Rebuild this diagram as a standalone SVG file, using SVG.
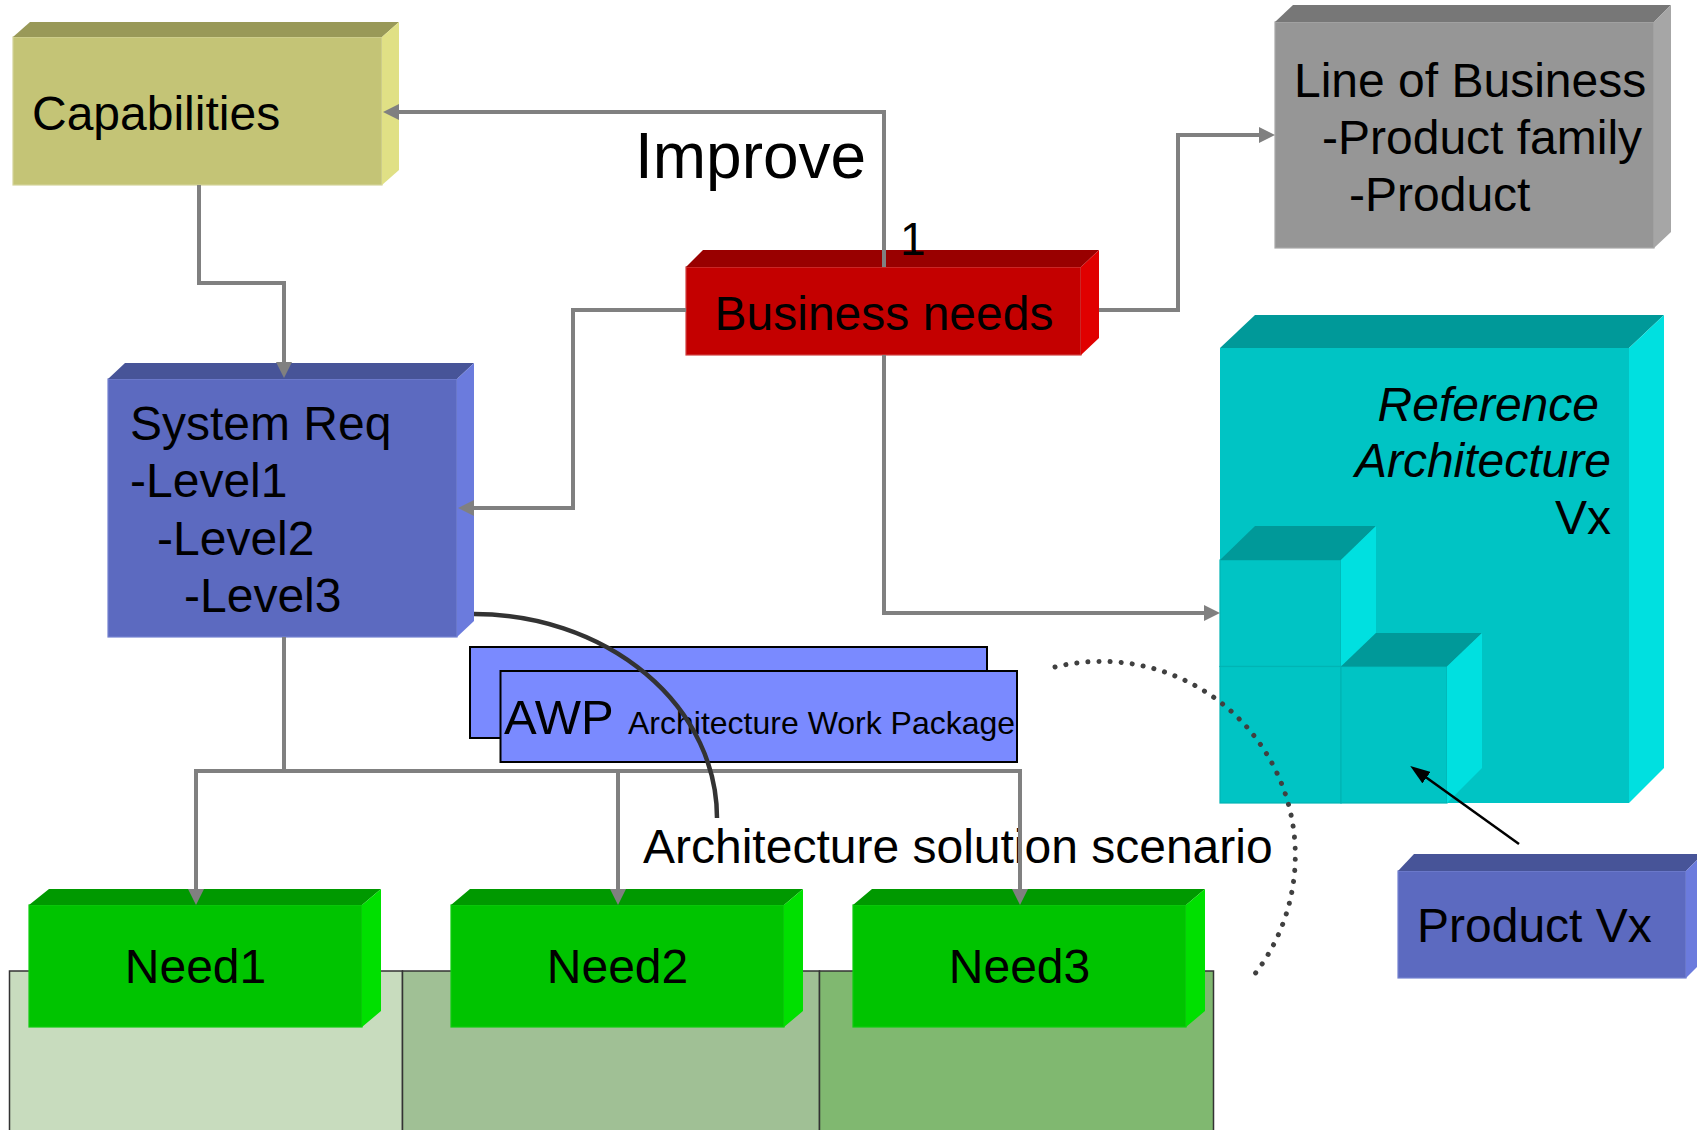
<svg xmlns="http://www.w3.org/2000/svg" width="1697" height="1130" viewBox="0 0 1697 1130">
<defs>
<style>
text{font-family:"Liberation Sans",Arial,sans-serif;fill:#000}
.t48{font-size:48px}
.con{fill:none;stroke:#808080;stroke-width:4}
.panel{stroke:#333;stroke-width:1.5}
.edge{stroke-width:1.2}
.awp{fill:#7A8AFF;stroke:#000;stroke-width:2}
</style>
<marker id="ag" markerUnits="userSpaceOnUse" markerWidth="16" markerHeight="16" refX="8" refY="8" orient="auto">
<path d="M0,0 L16,8 L0,16 z" fill="#808080"/>
</marker>
<marker id="ab" markerUnits="userSpaceOnUse" markerWidth="20" markerHeight="14" refX="8" refY="7" orient="auto">
<path d="M0,0 L20,7 L0,14 z" fill="#000"/>
</marker>
</defs>
<rect width="1697" height="1130" fill="#fff"/>

<g id="panels">
<rect class="panel" x="9.5" y="971" width="393" height="170" fill="#C8DCBE"/>
<rect class="panel" x="402.5" y="971" width="417" height="170" fill="#A0C095"/>
<rect class="panel" x="819.5" y="971" width="394" height="170" fill="#80B870"/>
</g>

<g id="capabilities">
<rect x="13" y="37" width="369" height="148" fill="#C4C476" stroke="#D4D49A" class="edge"/>
<polygon points="13,37 30,22 399,22 382,37" fill="#999958"/>
<polygon points="382,37 399,22 399,170 382,185" fill="#E0E085"/>
<text class="t48" x="32" y="130">Capabilities</text>
</g>

<g id="business-needs">
<rect x="686" y="267" width="395" height="88" fill="#C40000" stroke="#D04040" class="edge"/>
<polygon points="686,267 703,250 1099,250 1081,267" fill="#990000"/>
<polygon points="1081,267 1099,250 1099,338 1081,355" fill="#E00000"/>
<text class="t48" x="884" y="330" text-anchor="middle">Business needs</text>
</g>

<g id="line-of-business">
<rect x="1275" y="22" width="379" height="226" fill="#969696" stroke="#A8A8A8" class="edge"/>
<polygon points="1275,22 1293,5 1671,5 1654,22" fill="#777777"/>
<polygon points="1654,22 1671,5 1671,232 1654,248" fill="#A6A6A6"/>
<text class="t48" x="1294" y="97">Line of Business</text>
<text class="t48" x="1322" y="154">-Product family</text>
<text class="t48" x="1349" y="211">-Product</text>
</g>

<g id="system-req">
<rect x="108" y="379" width="349" height="258" fill="#5C6AC0" stroke="#7482D0" class="edge"/>
<polygon points="108,379 125,363 474,363 457,379" fill="#475498"/>
<polygon points="457,379 474,363 474,621 457,637" fill="#6B7BDD"/>
<text class="t48" x="130" y="440">System Req</text>
<text class="t48" x="130" y="497">-Level1</text>
<text class="t48" x="157" y="555">-Level2</text>
<text class="t48" x="184" y="612">-Level3</text>
</g>

<g id="reference-architecture">
<rect x="1220" y="348" width="409" height="455" fill="#00C4C4"/>
<polygon points="1220,348 1255,315 1664,315 1629,348" fill="#009999"/>
<polygon points="1629,348 1664,315 1664,768 1629,803" fill="#00E0E0"/>
<rect x="1220" y="560" width="121" height="106.5" fill="#00C4C4" stroke="#00B4B4" class="edge"/>
<polygon points="1220,560 1255,526 1376,526 1341,560" fill="#009999"/>
<polygon points="1341,560 1376,526 1376,633 1341,666.5" fill="#00E0E0"/>
<rect x="1220" y="666.5" width="121" height="136.5" fill="#00C4C4" stroke="#00B4B4" class="edge"/>
<rect x="1341" y="666.5" width="106" height="136.5" fill="#00C4C4" stroke="#00B4B4" class="edge"/>
<polygon points="1341,666.5 1376,633 1482,633 1447,666.5" fill="#009999"/>
<polygon points="1447,666.5 1482,633 1482,768 1447,803" fill="#00E0E0"/>
<text class="t48" x="1599" y="421" text-anchor="end" font-style="italic">Reference</text>
<text class="t48" x="1611" y="477" text-anchor="end" font-style="italic">Architecture</text>
<text class="t48" x="1611" y="534" text-anchor="end">Vx</text>
</g>

<g id="awp">
<rect class="awp" x="470" y="647" width="517" height="91"/>
<rect class="awp" x="500.5" y="671" width="516.5" height="91"/>
<text x="504" y="734" font-size="49">AWP</text>
<text x="628" y="734" font-size="32">Architecture Work Package</text>
</g>

<g id="product-vx">
<rect x="1398" y="871" width="288" height="107" fill="#5C6AC0" stroke="#7482D0" class="edge"/>
<polygon points="1398,871 1414,854 1703,854 1686,871" fill="#475498"/>
<polygon points="1686,871 1703,854 1703,961 1686,978" fill="#6B7BDD"/>
<text class="t48" x="1417" y="942">Product Vx</text>
</g>

<g id="need1">
<rect x="29" y="905" width="333" height="122" fill="#00C400" stroke="#10CC10" class="edge"/>
<polygon points="29,905 49,889 381,889 362,905" fill="#009900"/>
<polygon points="362,905 381,889 381,1011 362,1027" fill="#00E000"/>
<text class="t48" x="195.5" y="983" text-anchor="middle">Need1</text>
</g>
<g id="need2">
<rect x="451" y="905" width="333" height="122" fill="#00C400" stroke="#10CC10" class="edge"/>
<polygon points="451,905 470,889 803,889 784,905" fill="#009900"/>
<polygon points="784,905 803,889 803,1011 784,1027" fill="#00E000"/>
<text class="t48" x="617.5" y="983" text-anchor="middle">Need2</text>
</g>
<g id="need3">
<rect x="853" y="905" width="333" height="122" fill="#00C400" stroke="#10CC10" class="edge"/>
<polygon points="853,905 872,889 1205,889 1186,905" fill="#009900"/>
<polygon points="1186,905 1205,889 1205,1011 1186,1027" fill="#00E000"/>
<text class="t48" x="1019.5" y="983" text-anchor="middle">Need3</text>
</g>

<g id="labels">
<text x="635" y="178" font-size="64">Improve</text>
<text x="900" y="255" font-size="46">1</text>
<text class="t48" x="643" y="863">Architecture solution scenario</text>
</g>

<g id="connectors">
<path class="con" d="M884,267 V112 H391" marker-end="url(#ag)"/>
<path class="con" d="M199,185 V283 H284 V370" marker-end="url(#ag)"/>
<path class="con" d="M686,310 H573 V508 H466" marker-end="url(#ag)"/>
<path class="con" d="M1099,310 H1178 V135 H1267" marker-end="url(#ag)"/>
<path class="con" d="M884,355 V613 H1212" marker-end="url(#ag)"/>
<path class="con" d="M284,637 V771"/>
<path class="con" d="M194,771 H1022"/>
<path class="con" d="M196,771 V897" marker-end="url(#ag)"/>
<path class="con" d="M618,771 V897" marker-end="url(#ag)"/>
<path class="con" d="M1020,771 V897" marker-end="url(#ag)"/>
<path d="M474,614 A243,204 0 0 1 717,818" fill="none" stroke="#333" stroke-width="4.5"/>
<path d="M1055,667 A194,194 0 0 1 1250,980" fill="none" stroke="#404040" stroke-width="5" stroke-linecap="round" stroke-dasharray="0.1 11"/>
<path d="M1519,844 L1420,773" fill="none" stroke="#000" stroke-width="2.5" marker-end="url(#ab)"/>
</g>
</svg>
